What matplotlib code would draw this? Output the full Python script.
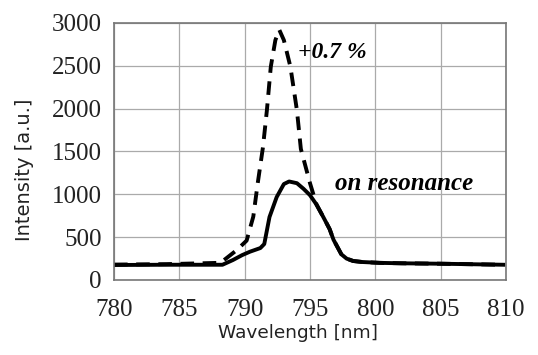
import matplotlib
matplotlib.use("Agg")
import matplotlib.pyplot as plt
import numpy as np

# on resonance (solid)
wl_res = [780, 784, 788.3, 789.1, 789.8, 790.4, 791.2, 791.5, 791.9, 792.45, 793.0, 793.4,
          794.0, 794.5, 795.0, 795.5, 796.0, 796.5, 796.8, 797.4, 797.8, 798.3, 799.0,
          800.35, 802, 805, 807, 809.8]
int_res = [175, 178, 178, 233, 290, 330, 373, 420, 735, 968, 1120, 1150,
           1130, 1065, 990, 880, 740, 595, 470, 300, 250, 222, 210,
           200, 195, 190, 185, 178]

# +0.7 % (dashed)
wl_off = [780, 784, 788.0, 788.4, 789.4, 790.15, 790.66, 791.0, 791.4, 791.7, 792.0, 792.35,
          792.65, 793.0, 793.5, 794.0, 794.3, 795.0, 795.5, 796.0, 796.5, 796.8, 797.4,
          797.8, 798.3, 799.0, 800.35, 802, 805, 807, 809.8]
int_off = [180, 185, 200, 230, 350, 460, 740, 1130, 1550, 1980, 2490, 2800,
           2920, 2800, 2490, 1980, 1530, 1130, 880, 740, 595, 470, 300,
           250, 222, 210, 200, 195, 190, 185, 178]

fig = plt.figure(figsize=(5.38, 3.55), dpi=100)
ax = fig.add_axes([114/538, 1-280/355, 392/538, 257/355])

ax.plot(wl_off, int_off, color="black", lw=2.8, ls=(0, (3.5, 2.2)))
ax.plot(wl_res, int_res, color="black", lw=2.8)

ax.set_xlim(780, 810)
ax.set_ylim(0, 3000)
ax.set_xticks(np.arange(780, 811, 5))
ax.set_yticks(np.arange(0, 3001, 500))
ax.grid(True, color="#aaaaaa", lw=0.9)
for s in ax.spines.values():
    s.set_color("#777777")
    s.set_linewidth(1.2)
ax.tick_params(length=0, labelsize=18)
ax.tick_params(axis="x", pad=14)
ax.tick_params(axis="y", pad=9)
for lab in ax.get_xticklabels() + ax.get_yticklabels():
    lab.set_family("Liberation Serif")
    lab.set_color("#222222")

fig.text(298/538, 1-333/355, "Wavelength [nm]", ha="center", va="center", fontsize=13.3, color="#222222")
fig.text(25/538, 1-170/355, "Intensity [a.u.]", ha="center", va="center", rotation=90,
         fontsize=14, color="#222222")

ax.text(796.7, 2660, "+0.7 %", family="Liberation Serif", style="italic", weight="bold",
        fontsize=17, ha="center", va="center")
ax.text(802.2, 1130, "on resonance", family="Liberation Serif", style="italic", weight="bold",
        fontsize=18, ha="center", va="center")

fig.savefig("out.png", dpi=100)
